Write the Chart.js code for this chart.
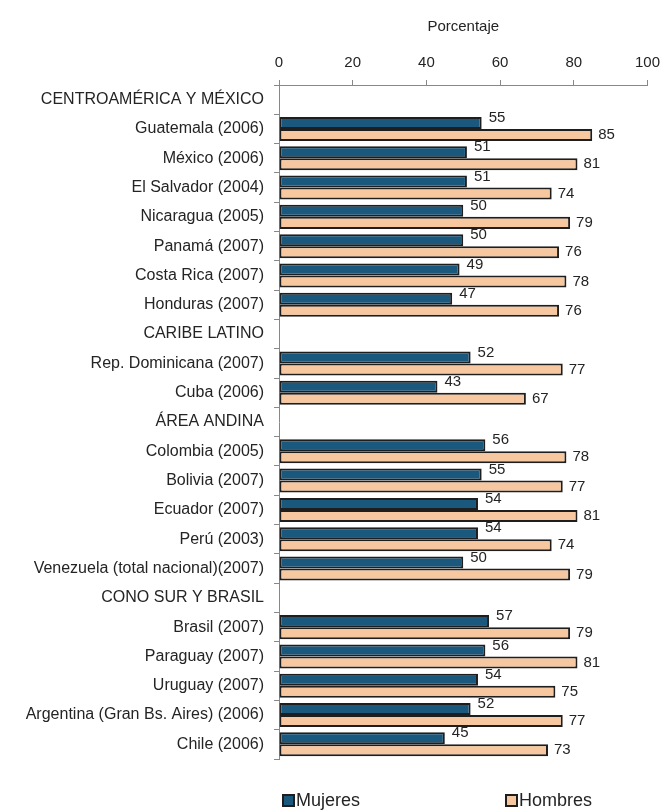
<!DOCTYPE html>
<html>
<head>
<meta charset="utf-8">
<script src="https://cdn.jsdelivr.net/npm/chart.js@4.4.1/dist/chart.umd.min.js"></script>
<style>
  html, body { margin: 0; padding: 0; background: #fff; }
  #wrap { width: 668px; height: 812px; position: relative; }
</style>
</head>
<body>
<div id="wrap"><canvas id="chart" width="668" height="812"></canvas></div>
<script>
// categories (group headers have no values)
const categories = [
  'CENTROAMÉRICA Y MÉXICO',
  'Guatemala (2006)', 'México (2006)', 'El Salvador (2004)', 'Nicaragua (2005)',
  'Panamá (2007)', 'Costa Rica (2007)', 'Honduras (2007)',
  'CARIBE LATINO',
  'Rep. Dominicana (2007)', 'Cuba (2006)',
  'ÁREA ANDINA',
  'Colombia (2005)', 'Bolivia (2007)', 'Ecuador (2007)', 'Perú (2003)',
  'Venezuela (total nacional)(2007)',
  'CONO SUR Y BRASIL',
  'Brasil (2007)', 'Paraguay (2007)', 'Uruguay (2007)',
  'Argentina (Gran Bs. Aires) (2006)', 'Chile (2006)'
];

const mujeres = [null, 55, 51, 51, 50, 50, 49, 47, null, 52, 43, null, 56, 55, 54, 54, 50, null, 57, 56, 54, 52, 45];
const hombres = [null, 85, 81, 74, 79, 76, 78, 76, null, 77, 67, null, 78, 77, 81, 74, 79, null, 79, 81, 75, 77, 73];

const xTicks = [0, 20, 40, 60, 80, 100];

const FONT = '"Liberation Sans", Arial, sans-serif';
const TEXT = '#242424';

// value labels next to bar ends
const barLabels = {
  id: 'barLabels',
  afterDatasetsDraw(chart) {
    const ctx = chart.ctx;
    ctx.save();
    ctx.font = '15px ' + FONT;
    ctx.fillStyle = TEXT;
    ctx.textBaseline = 'middle';
    ctx.textAlign = 'left';
    chart.data.datasets.forEach((ds, i) => {
      chart.getDatasetMeta(i).data.forEach((bar, j) => {
        const v = ds.data[j];
        if (v == null) return;
        if (i === 0) ctx.fillText(v, bar.x + 7, bar.y - 5);
        else ctx.fillText(v, bar.x + 6, bar.y);
      });
    });
    ctx.restore();
  }
};

// legend at the bottom, drawn with the dataset colours
const bottomLegend = {
  id: 'bottomLegend',
  afterDraw(chart) {
    const ctx = chart.ctx;
    const spots = [{ x: 283, i: 0 }, { x: 506, i: 1 }];
    ctx.save();
    ctx.font = '18px ' + FONT;
    ctx.textBaseline = 'middle';
    spots.forEach(s => {
      const ds = chart.data.datasets[s.i];
      ctx.fillStyle = ds.backgroundColor;
      ctx.strokeStyle = ds.borderColor;
      ctx.lineWidth = 2;
      ctx.fillRect(s.x, 795, 11, 11);
      ctx.strokeRect(s.x, 795, 11, 11);
      ctx.fillStyle = TEXT;
      ctx.fillText(ds.label, s.x + 13, 801);
    });
    ctx.restore();
  }
};

new Chart(document.getElementById('chart'), {
  type: 'bar',
  data: {
    labels: categories,
    datasets: [
      { label: 'Mujeres', data: mujeres, backgroundColor: '#1b587e', borderColor: '#1e1e1e', borderWidth: 2,
        categoryPercentage: 0.82, barPercentage: 1.0, borderSkipped: false },
      { label: 'Hombres', data: hombres, backgroundColor: '#f7c79f', borderColor: '#1e1e1e', borderWidth: 2,
        categoryPercentage: 0.82, barPercentage: 1.0, borderSkipped: false }
    ]
  },
  options: {
    indexAxis: 'y',
    responsive: false,
    animation: false,
    layout: { padding: { top: 6, right: 16, bottom: 53, left: 0 } },
    plugins: { legend: { display: false }, tooltip: { enabled: false } },
    scales: {
      x: {
        position: 'top',
        min: 0, max: 100,
        afterBuildTicks: s => { s.ticks = xTicks.map(v => ({ value: v })); },
        afterFit: s => { s.height = 79; },
        ticks: { font: { size: 15, family: FONT }, color: TEXT, padding: 8 },
        grid: { drawOnChartArea: false, tickLength: 5, color: '#888' },
        border: { color: '#888', width: 1 },
        title: { display: true, text: 'Porcentaje', font: { size: 15, family: FONT }, color: TEXT, padding: { top: 12, bottom: 0 } }
      },
      y: {
        afterFit: s => { s.width = 279; },
        ticks: { font: { size: 16, family: FONT }, color: TEXT, padding: 10, autoSkip: false },
        grid: { drawOnChartArea: false, offset: true, tickLength: 5, color: '#888' },
        border: { color: '#888', width: 1 }
      }
    }
  },
  plugins: [barLabels, bottomLegend]
});
</script>
</body>
</html>
